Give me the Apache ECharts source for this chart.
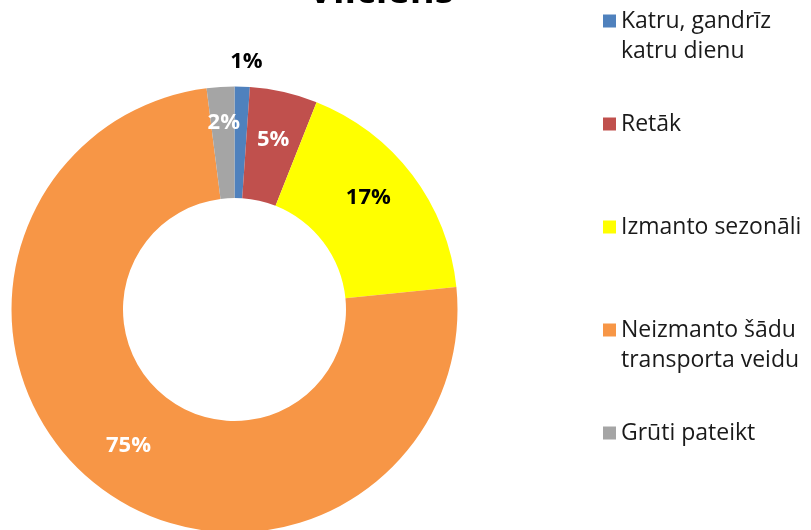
<!DOCTYPE html>
<html>
<head>
<meta charset="utf-8">
<script src="https://cdn.jsdelivr.net/npm/echarts@6/dist/echarts.min.js"></script>
<style>
  html, body { margin: 0; padding: 0; background: #fff; }
  #chart { width: 811px; height: 530px; }
</style>
</head>
<body>
<div id="chart"></div>
<script>
// 数据
const titleText = 'Vilciens';
const categories = ['Katru, gandrīz\nkatru dienu', 'Retāk', 'Izmanto sezonāli', 'Neizmanto šādu\ntransporta veidu', 'Grūti pateikt'];
const values = [1.1, 4.9, 17.4, 74.6, 2.0];
const colors = ['#4F81BD', '#C0504D', '#FFFF00', '#F79646', '#A5A5A5'];
const labelColors = ['#000', '#fff', '#000', '#fff', '#fff'];
const labelOffsets = [[6, -78], [1, -4], [-2, -9], [0, 3], [0, -17]];

const font = '"Open Sans", "DejaVu Sans", sans-serif';

// 每个图例单独放置，图标对齐第一行
const legends = categories.map((name, i) => {
    const twoLines = name.indexOf('\n') >= 0;
    const iconY = 21 + i * 103;
    return {
        orient: 'vertical',
        left: 603,
        top: iconY - (twoLines ? 45 : 15),
        padding: 0,
        itemWidth: 13,
        itemHeight: 13,
        icon: 'rect',
        selectedMode: false,
        data: [name],
        // 两行文字前加空行，使图标与第一行对齐
        formatter: n => (twoLines ? '\n' : '') + n,
        textStyle: {
            fontFamily: font,
            fontSize: 23,
            color: '#1a1a1a',
            lineHeight: 30
        }
    };
});

const chart = echarts.init(document.getElementById('chart'));
chart.setOption({
    animation: false,
    title: {
        text: titleText,
        left: 376,
        textAlign: 'center',
        top: -32,
        textStyle: { fontFamily: font, fontSize: 38, fontWeight: 'bold', color: '#000' }
    },
    legend: legends,
    series: [{
        type: 'pie',
        center: [234.5, 309.5],
        radius: [111.5, 223],
        startAngle: 90,
        clockwise: true,
        avoidLabelOverlap: false,
        data: categories.map((name, i) => ({
            name: name,
            value: values[i],
            itemStyle: { color: colors[i] },
            label: { color: labelColors[i], offset: labelOffsets[i] }
        })),
        label: {
            show: true,
            position: 'inside',
            fontFamily: font,
            fontSize: 22,
            fontWeight: 'bold',
            formatter: p => Math.round(p.value) + '%'
        },
        labelLine: { show: false },
        emphasis: { disabled: true }
    }]
});
</script>
</body>
</html>
